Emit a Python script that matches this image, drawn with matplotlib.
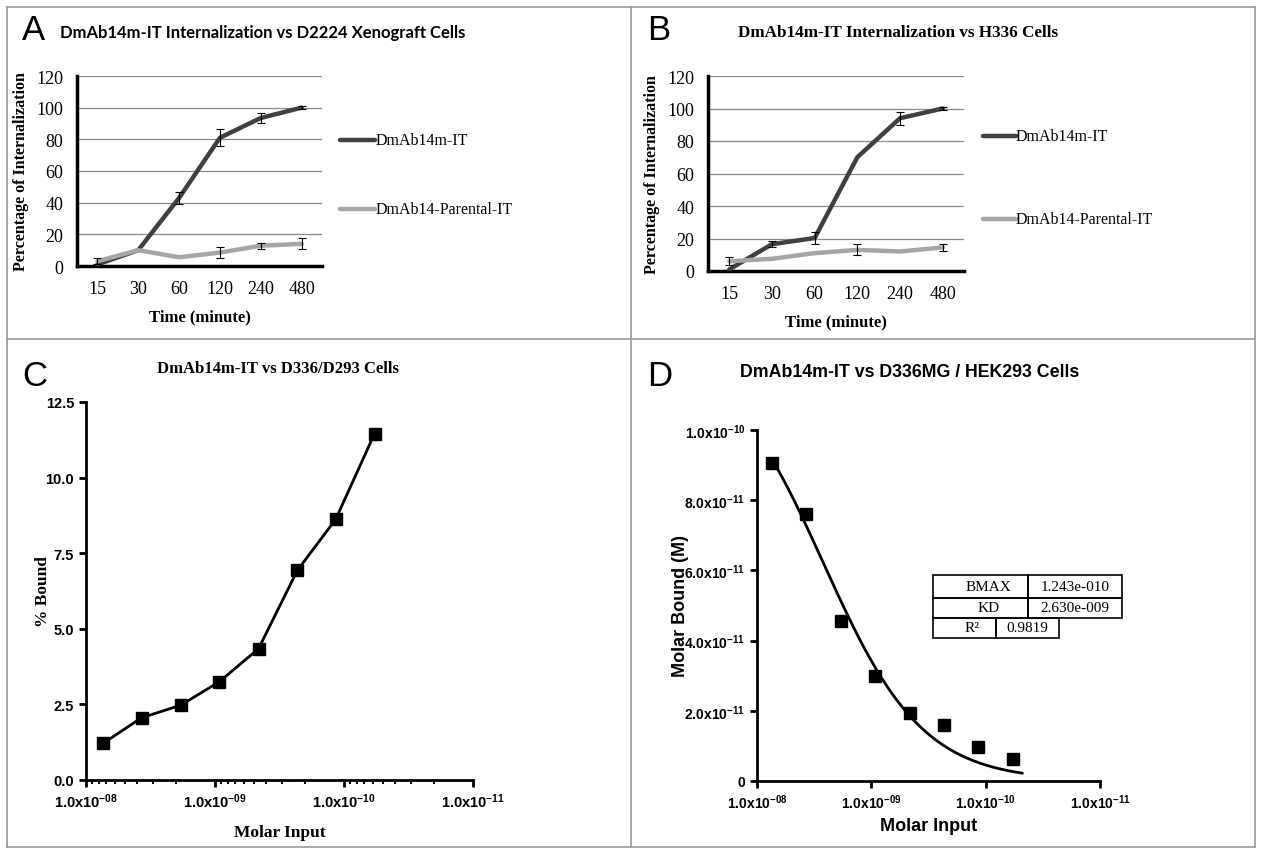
import numpy as np
import matplotlib
matplotlib.use("Agg")
import matplotlib.pyplot as plt
from matplotlib.patches import Rectangle
from matplotlib.lines import Line2D

W, H = 1262, 854

plt.rcParams['mathtext.fontset'] = 'custom'
plt.rcParams['mathtext.rm'] = 'Liberation Sans:bold'
plt.rcParams['mathtext.it'] = 'Liberation Sans:bold'
plt.rcParams['mathtext.bf'] = 'Liberation Sans:bold'

# panels A / B : internalization time course
times = ['15', '30', '60', '120', '240', '480']
a_mut = [1, 10, 43, 81, 93.5, 100]
a_mut_err = [0, 0, 4, 5.5, 3.4, 1]
a_par = [3, 10, 5.5, 8.5, 12.8, 14]
a_par_err = [2, 0, 0, 3.5, 2, 3.5]

b_mut = [1, 16.5, 20.3, 70, 94, 100]
b_mut_err = [0, 1.7, 3.8, 0, 4, 1]
b_par = [6, 7.5, 11, 13, 12, 14.5]
b_par_err = [2.5, 0, 0, 3.4, 0, 2.3]

# panels C / D : binding vs molar input
molar = [7.4e-9, 3.7e-9, 1.85e-9, 9.25e-10, 4.6e-10, 2.3e-10, 1.16e-10, 5.8e-11]
c_bound = [1.21, 2.06, 2.47, 3.25, 4.34, 6.93, 8.62, 11.45]
d_bound = [9.05e-11, 7.62e-11, 4.56e-11, 2.99e-11, 1.93e-11, 1.59e-11, 0.98e-11, 0.64e-11]
BMAX = 1.243e-10
KD = 2.630e-9
R2 = 0.9819

log_ticks = [1e-8, 1e-9, 1e-10, 1e-11]
c_xlabels = ['1.0x10$^{-08}$', '1.0x10$^{-09}$', '1.0x10$^{-10}$', '1.0x10$^{-11}$']
d_xlabels = ['1.0x10$^{-08}$', '1.0x10$^{-09}$', '1.0x10$^{-10}$', '1.0x10$^{-11}$']
c_yticks = [0, 2.5, 5.0, 7.5, 10.0, 12.5]
d_yticks = [0, 2e-11, 4e-11, 6e-11, 8e-11, 1e-10]
d_ylabels = ['0', '2.0x10$^{-11}$', '4.0x10$^{-11}$', '6.0x10$^{-11}$', '8.0x10$^{-11}$', '1.0x10$^{-10}$']

SERIF = ['Liberation Serif', 'DejaVu Serif']
SANS = ['Liberation Sans', 'DejaVu Sans']
DARK = '#404040'
LIGHT = '#a6a6a6'

fig = plt.figure(figsize=(W / 100, H / 100), dpi=100)


def px_axes(left, top, right, bottom):
  return fig.add_axes([left / W, 1 - bottom / H, (right - left) / W, (bottom - top) / H])


def ftext(x, y, s, **kw):
  fig.text(x / W, 1 - y / H, s, **kw)


def fline(x0, y0, x1, y1, **kw):
  fig.add_artist(Line2D([x0 / W, x1 / W], [1 - y0 / H, 1 - y1 / H], transform=fig.transFigure, **kw))


# frame and dividers
for seg in [(7, 8, 1255, 8), (7, 848, 1255, 848), (7, 8, 7, 848), (1255, 8, 1255, 848),
            (631, 8, 631, 848), (7, 340, 1255, 340)]:
  fline(*seg, color='#9a9a9a', lw=1.2)


def internal_panel(ax, mut, mut_err, par, par_err):
  x = np.arange(len(times))
  ax.plot(x, mut, color=DARK, lw=3.2, solid_capstyle='round', zorder=3)
  ax.plot(x, par, color=LIGHT, lw=3.2, solid_capstyle='round', zorder=4)
  for vals, errs in [(mut, mut_err), (par, par_err)]:
    e = np.array(errs)
    m = e > 0
    ax.errorbar(x[m], np.array(vals)[m], yerr=e[m], fmt='none', ecolor='black',
                elinewidth=0.8, capsize=3, capthick=0.8, zorder=5)
  ax.set_xlim(-0.5, len(times) - 0.5)
  ax.set_ylim(0, 120)
  ax.set_yticks(range(0, 121, 20))
  ax.set_xticks(x)
  ax.set_xticklabels(times)
  ax.yaxis.grid(True, color='#8c8c8c', lw=0.9)
  ax.set_axisbelow(True)
  for s in ['top', 'right']:
    ax.spines[s].set_visible(False)
  for s in ['left', 'bottom']:
    ax.spines[s].set_linewidth(2.5)
  ax.tick_params(length=0, pad=10, labelsize=13)
  for lab in ax.get_xticklabels() + ax.get_yticklabels():
    lab.set_family(SERIF)
  ax.set_xlabel('Time (minute)', family=SERIF, fontweight='bold', fontsize=12, labelpad=8)
  ax.set_ylabel('Percentage of Internalization', family=SERIF, fontweight='bold', fontsize=11.5, labelpad=5)


# ---- A
axA = px_axes(77, 77, 322, 267)
internal_panel(axA, a_mut, a_mut_err, a_par, a_par_err)
ftext(22, 30, 'A', family=SANS, fontsize=25, va='center')
ftext(263, 33, 'DmAb14m-IT Internalization vs D2224 Xenograft Cells', family=['Lato', 'DejaVu Sans'],
      fontweight='bold', fontsize=12, ha='center', va='center')
fline(340, 141, 375, 141, color=DARK, lw=3.2, solid_capstyle='round')
fline(340, 210, 375, 210, color=LIGHT, lw=3.2, solid_capstyle='round')
ftext(376, 141, 'DmAb14m-IT', family=SERIF, fontsize=11.5, va='center')
ftext(376, 210, 'DmAb14-Parental-IT', family=SERIF, fontsize=11.5, va='center')

# ---- B
axB = px_axes(708, 77, 964, 272)
internal_panel(axB, b_mut, b_mut_err, b_par, b_par_err)
ftext(647, 30, 'B', family=SANS, fontsize=25, va='center')
ftext(898, 33, 'DmAb14m-IT Internalization vs H336 Cells', family=SERIF,
      fontweight='bold', fontsize=12.3, ha='center', va='center')
fline(983, 137, 1016, 137, color=DARK, lw=3.2, solid_capstyle='round')
fline(983, 220, 1016, 220, color=LIGHT, lw=3.2, solid_capstyle='round')
ftext(1016, 137, 'DmAb14m-IT', family=SERIF, fontsize=11.5, va='center')
ftext(1016, 220, 'DmAb14-Parental-IT', family=SERIF, fontsize=11.5, va='center')


def binding_axes(ax):
  ax.set_xscale('log')
  ax.set_xlim(1e-8, 1e-11)
  for s in ['top', 'right']:
    ax.spines[s].set_visible(False)
  for s in ['left', 'bottom']:
    ax.spines[s].set_linewidth(2)
  ax.tick_params(which='major', length=5, width=2)
  ax.tick_params(which='minor', length=3, width=1.5)


# ---- C
axC = px_axes(86, 403, 473, 781)
axC.plot(molar, c_bound, color='black', lw=2, marker='s', ms=8)
binding_axes(axC)
axC.set_ylim(0, 12.5)
axC.set_yticks(c_yticks)
axC.set_yticklabels(['%.1f' % v for v in c_yticks])
axC.set_xticks(log_ticks)
axC.set_xticklabels(c_xlabels)
for lab in axC.get_xticklabels() + axC.get_yticklabels():
  lab.set_family(SANS)
  lab.set_fontweight('bold')
  lab.set_fontsize(10.5)
axC.set_xlabel('Molar Input', family=SERIF, fontweight='bold', fontsize=12.5, labelpad=10)
axC.set_ylabel('% Bound', family=SERIF, fontweight='bold', fontsize=12.5, labelpad=-4)
ftext(22, 377, 'C', family=SANS, fontsize=25, va='center')
ftext(278, 369, 'DmAb14m-IT vs D336/D293 Cells', family=SERIF,
      fontweight='bold', fontsize=12, ha='center', va='center')

# ---- D
axD = px_axes(757, 431, 1100, 782)
fit_x = np.logspace(np.log10(7.4e-9), np.log10(4.8e-11), 200)
axD.plot(fit_x, BMAX * fit_x / (KD + fit_x), color='black', lw=2)
axD.plot(molar, d_bound, ls='none', marker='s', ms=9, color='black')
binding_axes(axD)
axD.xaxis.set_minor_locator(matplotlib.ticker.NullLocator())
axD.set_ylim(0, 1e-10)
axD.set_yticks(d_yticks)
axD.set_yticklabels(d_ylabels)
axD.set_xticks(log_ticks)
axD.set_xticklabels(d_xlabels)
for lab in axD.get_xticklabels() + axD.get_yticklabels():
  lab.set_family(SANS)
  lab.set_fontweight('bold')
  lab.set_fontsize(10)
axD.set_xlabel('Molar Input', family=SANS, fontweight='bold', fontsize=13, labelpad=4)
axD.set_ylabel('Molar Bound (M)', family=SANS, fontweight='bold', fontsize=13, labelpad=-3)
ftext(647, 377, 'D', family=SANS, fontsize=25, va='center')
ftext(910, 373, 'DmAb14m-IT vs D336MG / HEK293 Cells', family=SANS,
      fontweight='bold', fontsize=12.8, ha='center', va='center')

# fit parameter table
rows = [(933, 576, 599, 1028, 'BMAX', '%.3fe-010' % (BMAX * 1e10), 1122),
        (933, 599, 619, 1028, 'KD', '%.3fe-009' % (KD * 1e9), 1122),
        (933, 619, 639, 996, 'R²', '%.4f' % R2, 1059)]
for x0, y0, y1, xm, k, v, x1 in rows:
  for a, b in [(x0, xm), (xm, x1)]:
    fig.add_artist(Rectangle((a / W, 1 - y1 / H), (b - a) / W, (y1 - y0) / H,
                             transform=fig.transFigure, fill=False, ec='black', lw=1.2))
  ftext((x0 + xm) / 2 + 8, (y0 + y1) / 2, k, family=SERIF, fontsize=11, ha='center', va='center')
  ftext((xm + x1) / 2, (y0 + y1) / 2, v, family=SERIF, fontsize=11, ha='center', va='center')

fig.savefig('out.png', dpi=100)
